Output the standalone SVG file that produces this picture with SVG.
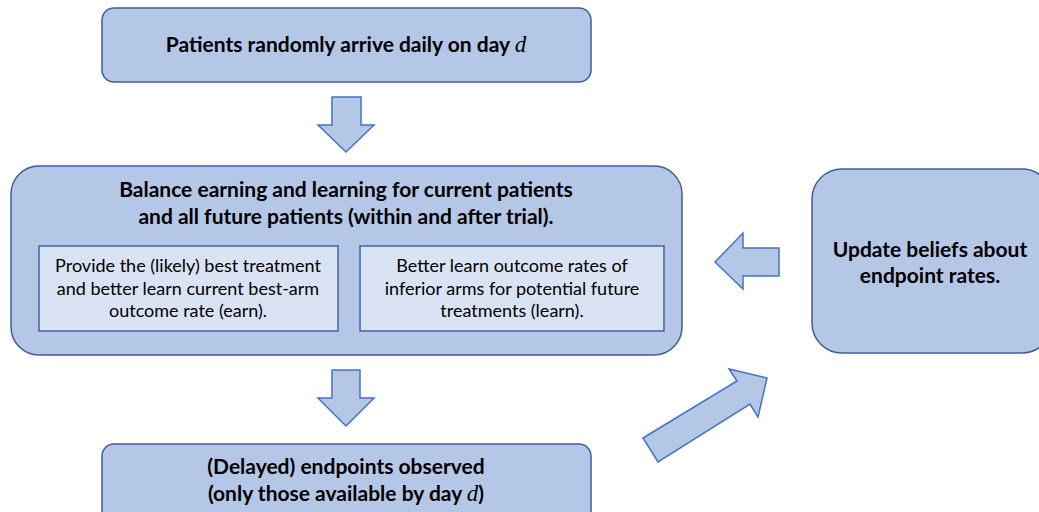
<svg xmlns="http://www.w3.org/2000/svg" width="1039" height="512" viewBox="0 0 1039 512">
<style>
.box{fill:#b4c7e7;stroke:#3c5f99;stroke-width:1.5}
.inner{fill:#dae3f3;stroke:#3c64a8;stroke-width:1.5}
.arrow{fill:#b4c7e7;stroke:#4472c4;stroke-width:1.5;stroke-linejoin:miter}
.b{font-family:Lato,"Open Sans",sans-serif;font-weight:bold;font-size:21px;fill:#000;text-anchor:middle}
.r{font-family:Lato,"Open Sans",sans-serif;font-size:18px;fill:#000;text-anchor:middle}
.m{font-family:"Liberation Serif",serif;font-style:italic;font-weight:normal;font-size:23px}
</style>
<rect width="1039" height="512" fill="#ffffff"/>
<g id="arrive">
<rect class="box" x="102" y="8" width="489" height="74" rx="12"/>
<text class="b" x="346" y="52">Patients randomly arrive daily on day <tspan class="m">d</tspan></text>
</g>
<g id="balance">
<rect class="box" x="11" y="166" width="671" height="189" rx="28"/>
<text class="b" x="346" y="197">Balance earning and learning for current patients</text>
<text class="b" x="346" y="224">and all future patients (within and after trial).</text>
</g>
<g id="earn">
<rect class="inner" x="39" y="246" width="299" height="85"/>
<text class="r" x="188" y="272">Provide the (likely) best treatment</text>
<text class="r" x="188" y="295">and better learn current best-arm</text>
<text class="r" x="188" y="317">outcome rate (earn).</text>
</g>
<g id="learn">
<rect class="inner" x="360" y="246" width="304" height="85"/>
<text class="r" x="512" y="272">Better learn outcome rates of</text>
<text class="r" x="512" y="295">inferior arms for potential future</text>
<text class="r" x="512" y="317">treatments (learn).</text>
</g>
<g id="update">
<rect class="box" x="812" y="169" width="240" height="184" rx="30"/>
<text class="b" x="930" y="257">Update beliefs about</text>
<text class="b" x="930" y="283">endpoint rates.</text>
</g>
<g id="observed">
<rect class="box" x="102" y="444" width="489" height="90" rx="12"/>
<text class="b" x="346" y="474">(Delayed) endpoints observed</text>
<text class="b" x="346" y="501">(only those available by day <tspan class="m">d</tspan>)</text>
</g>
<g id="connectors">
<polygon class="arrow" points="332,97 361,97 361,125 374,125 346,152 318,125 332,125"/>
<polygon class="arrow" points="332,370 360,370 360,398 374,398 346,426 318,398 332,398"/>
<polygon class="arrow" points="779,248 779,276 743,276 743,289 715,262 743,233 743,248"/>
<polygon class="arrow" points="643,438 737,381 729,369 767,378 758,417 750,404 658,462"/>
</g>
</svg>
